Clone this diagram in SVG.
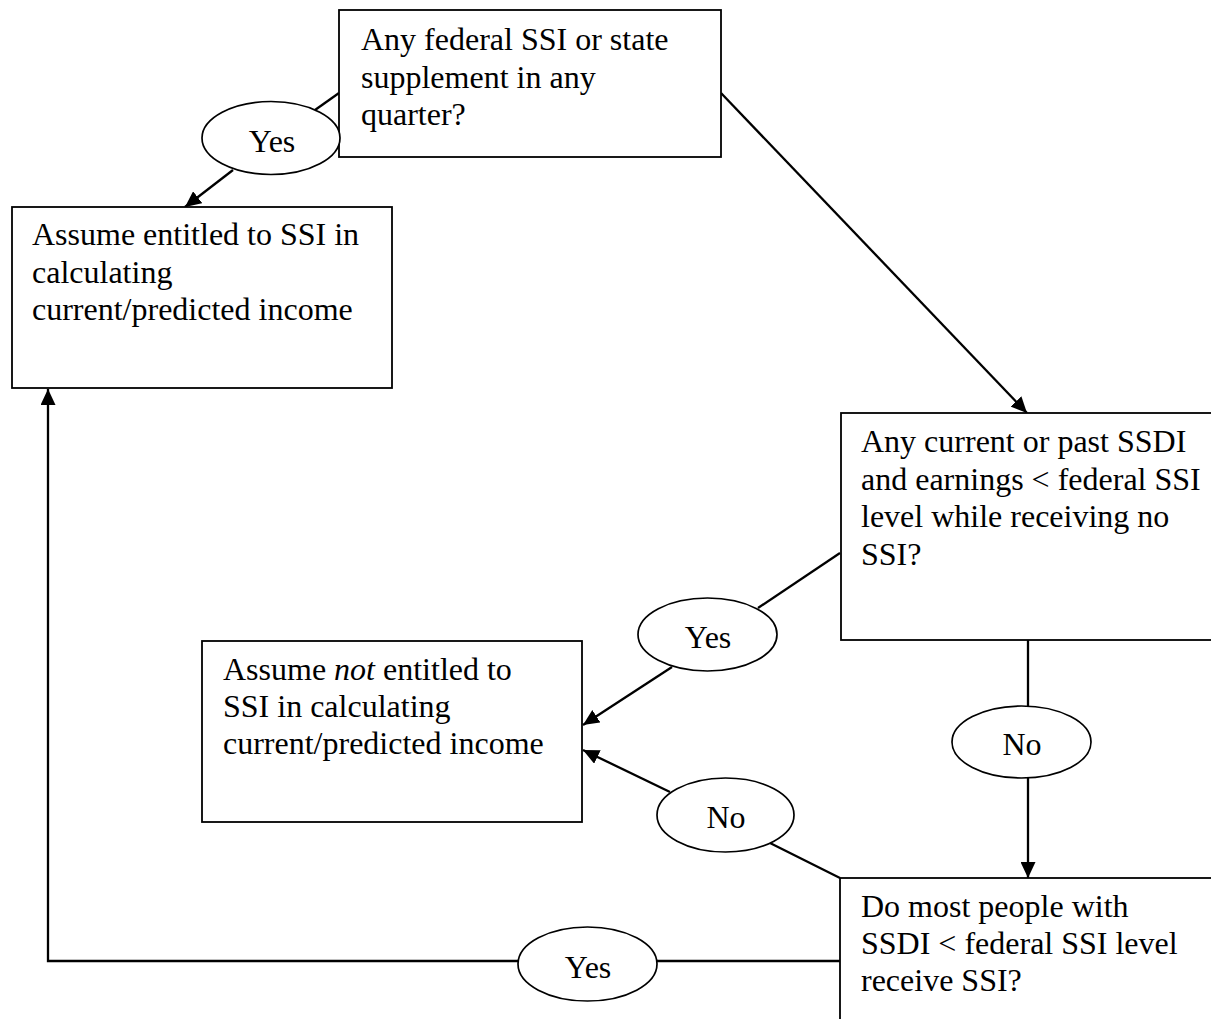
<svg xmlns="http://www.w3.org/2000/svg" width="1211" height="1019" viewBox="0 0 1211 1019">
<defs>
<marker id="arr" markerWidth="16" markerHeight="15" refX="16" refY="7.5" orient="auto" markerUnits="userSpaceOnUse">
<path d="M0,0 L16,7.5 L0,15 z" fill="#000"/>
</marker>
<style>
.box{fill:#fff;stroke:#000;stroke-width:1.8}
.oval{fill:#fff;stroke:#000;stroke-width:1.7}
.t{font-family:"Liberation Serif","Times New Roman",serif;font-size:32px;fill:#000}
.c{text-anchor:middle}
.ln{fill:none;stroke:#000;stroke-width:2.3}
</style>
</defs>
<rect width="1211" height="1019" fill="#fff"/>
<g id="connectors">
<line class="ln" x1="339" y1="93" x2="315" y2="110"/>
<line class="ln" x1="233" y1="170" x2="185" y2="207" marker-end="url(#arr)"/>
<line class="ln" x1="721" y1="93" x2="1027" y2="413" marker-end="url(#arr)"/>
<line class="ln" x1="840" y1="553" x2="758" y2="608"/>
<line class="ln" x1="672" y1="667" x2="583" y2="725" marker-end="url(#arr)"/>
<line class="ln" x1="1028" y1="640" x2="1028" y2="706"/>
<line class="ln" x1="1028" y1="778" x2="1028" y2="878" marker-end="url(#arr)"/>
<line class="ln" x1="840" y1="878" x2="770" y2="843"/>
<line class="ln" x1="670" y1="792" x2="583" y2="750" marker-end="url(#arr)"/>
<line class="ln" x1="840" y1="961" x2="657" y2="961"/>
<polyline class="ln" points="518,961 48,961 48,389" stroke-width="2.6" marker-end="url(#arr)"/>
</g>
<g id="q1">
<rect class="box" x="339" y="10" width="382" height="147"/>
<text class="t" x="361" y="50">Any federal SSI or state</text>
<text class="t" x="361" y="88">supplement in any</text>
<text class="t" x="361" y="125">quarter?</text>
</g>
<g id="yes1">
<ellipse class="oval" cx="271" cy="138" rx="69" ry="36.5"/>
<text class="t c" x="272" y="152">Yes</text>
</g>
<g id="entitled">
<rect class="box" x="12" y="207" width="380" height="181"/>
<text class="t" x="32" y="245">Assume entitled to SSI in</text>
<text class="t" x="32" y="283">calculating</text>
<text class="t" x="32" y="320">current/predicted income</text>
</g>
<g id="q2">
<rect class="box" x="841" y="413" width="380" height="227"/>
<text class="t" x="861" y="452">Any current or past SSDI</text>
<text class="t" x="861" y="490">and earnings &lt; federal SSI</text>
<text class="t" x="861" y="527">level while receiving no</text>
<text class="t" x="861" y="565">SSI?</text>
</g>
<g id="yes2">
<ellipse class="oval" cx="707.5" cy="634.5" rx="69.5" ry="36.5"/>
<text class="t c" x="708" y="648">Yes</text>
</g>
<g id="notentitled">
<rect class="box" x="202" y="641" width="380" height="181"/>
<text class="t" x="223" y="680">Assume <tspan font-style="italic">not</tspan> entitled to</text>
<text class="t" x="223" y="717">SSI in calculating</text>
<text class="t" x="223" y="754">current/predicted income</text>
</g>
<g id="no1">
<ellipse class="oval" cx="1021.5" cy="742" rx="69.5" ry="36"/>
<text class="t c" x="1022" y="755">No</text>
</g>
<g id="no2">
<ellipse class="oval" cx="725.5" cy="815" rx="68.5" ry="37"/>
<text class="t c" x="726" y="828">No</text>
</g>
<g id="q3">
<rect class="box" x="840" y="878" width="390" height="160"/>
<text class="t" x="861" y="917">Do most people with</text>
<text class="t" x="861" y="954">SSDI &lt; federal SSI level</text>
<text class="t" x="861" y="991">receive SSI?</text>
</g>
<g id="yes3">
<ellipse class="oval" cx="587.5" cy="964" rx="69.5" ry="37"/>
<text class="t c" x="588" y="978">Yes</text>
</g>
</svg>
